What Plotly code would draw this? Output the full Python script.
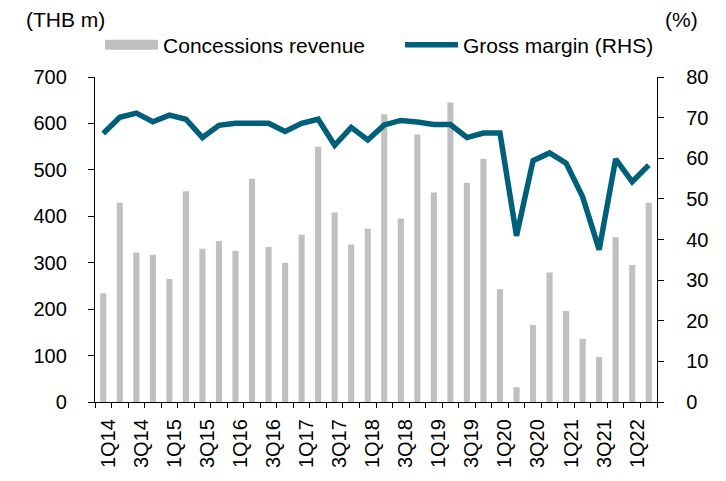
import plotly.graph_objects as go

quarters = ["1Q14", "2Q14", "3Q14", "4Q14", "1Q15", "2Q15", "3Q15", "4Q15",
            "1Q16", "2Q16", "3Q16", "4Q16", "1Q17", "2Q17", "3Q17", "4Q17",
            "1Q18", "2Q18", "3Q18", "4Q18", "1Q19", "2Q19", "3Q19", "4Q19",
            "1Q20", "2Q20", "3Q20", "4Q20", "1Q21", "2Q21", "3Q21", "4Q21",
            "1Q22", "2Q22"]
revenue = [234, 429, 322, 317, 265, 454, 330, 347, 325, 481, 334, 300,
           360, 550, 408, 339, 373, 620, 395, 576, 451, 645, 472, 524,
           243, 32, 166, 279, 196, 136, 97, 355, 295, 429]
margin = [66.1, 70.1, 71.1, 69.0, 70.6, 69.6, 65.1, 68.1, 68.6, 68.6, 68.6, 66.6,
          68.6, 69.6, 63.2, 67.6, 64.5, 68.2, 69.3, 68.9, 68.3, 68.3, 65.1, 66.2,
          66.2, 40.9, 59.4, 61.3, 58.8, 50.5, 37.5, 59.8, 54.2, 58.3]
left_ticks = [0, 100, 200, 300, 400, 500, 600, 700]
right_ticks = [0, 10, 20, 30, 40, 50, 60, 70, 80]

FONT = "Liberation Sans, Arial, sans-serif"
BAR = "#C0C0C0"
LINE = "#00607A"

idx = list(range(len(quarters)))
# rotated labels are centred on their bars (small nudge compensates glyph baseline)
label_pos = [i + 0.3 for i in idx[::2]]

fig = go.Figure()
fig.add_trace(go.Bar(x=idx, y=revenue, marker=dict(color=BAR, line=dict(width=0)),
                     width=0.37, showlegend=False, name="Concessions revenue"))
fig.add_trace(go.Scatter(x=[None], y=[None], mode="lines", name="Concessions revenue",
                         line=dict(color=BAR, width=13), legend="legend"))
fig.add_trace(go.Scatter(x=idx, y=margin, mode="lines", name="Gross margin (RHS)",
                         line=dict(color=LINE, width=5.5), yaxis="y2", legend="legend2"))

legend_common = dict(orientation="h", xanchor="left", y=1.098, yanchor="middle",
                     font=dict(size=21), itemwidth=53, bgcolor="rgba(0,0,0,0)")

fig.update_layout(
    width=726, height=481,
    margin=dict(l=87, r=77, t=69, b=87),
    paper_bgcolor="white", plot_bgcolor="white",
    font=dict(family=FONT, size=20, color="black"),
    xaxis=dict(range=[-0.5, len(quarters) - 0.5], tickmode="array",
               tickvals=label_pos, ticktext=quarters[::2], tickangle=-90,
               ticks="", showline=True, linecolor="black", linewidth=1.3,
               showgrid=False, zeroline=False, ticklabelstandoff=8,
               minor=dict(tickmode="linear", tick0=-0.5, dtick=1, ticks="outside",
                          ticklen=5, tickcolor="black", tickwidth=1.3, showgrid=False)),
    yaxis=dict(range=[0, 700], tickvals=left_ticks, ticks="outside", ticklen=6,
               tickwidth=1.3, tickcolor="black", showline=True, linecolor="black",
               linewidth=1.3, showgrid=False, zeroline=False, ticklabelstandoff=17),
    yaxis2=dict(range=[0, 80], tickvals=right_ticks, overlaying="y", side="right",
                ticks="outside", ticklen=6, tickwidth=1.3, tickcolor="black",
                showline=True, linecolor="black", linewidth=1.3, showgrid=False,
                zeroline=False, ticklabelstandoff=18),
    legend=dict(x=0.009, **legend_common),
    legend2=dict(x=0.5427, **legend_common),
    annotations=[
        dict(text="(THB m)", xref="paper", yref="paper", x=-0.127, y=1.178,
             xanchor="left", yanchor="middle", showarrow=False, font=dict(size=21)),
        dict(text="(%)", xref="paper", yref="paper", x=1.0765, y=1.178,
             xanchor="right", yanchor="middle", showarrow=False, font=dict(size=21)),
    ],
)

fig.write_html("out.html")
